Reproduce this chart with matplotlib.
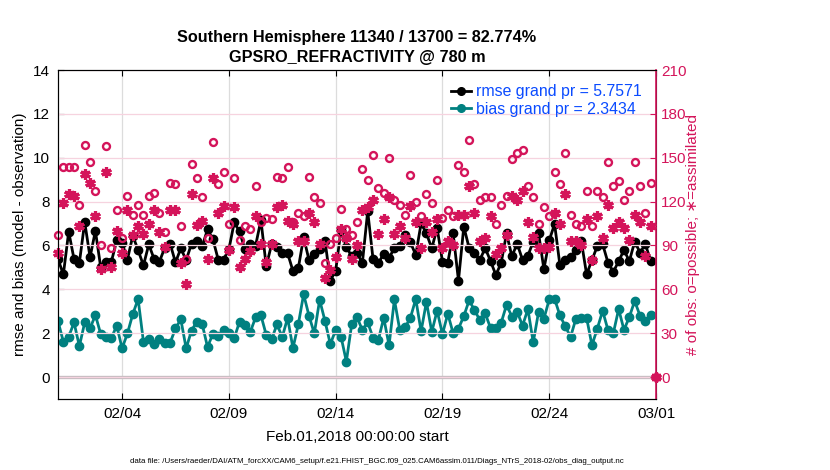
import numpy as np
import matplotlib
matplotlib.use("Agg")
import matplotlib.pyplot as plt
import matplotlib.dates as mdates
from matplotlib.lines import Line2D

plt.rcParams['font.family'] = ['Liberation Sans', 'DejaVu Sans']

# 6-hourly analysis times, Feb 01 00Z .. Mar 01 00Z
start = np.datetime64('2018-02-01T00:00')
times = start + np.arange(113) * np.timedelta64(6, 'h')

rmse = [5.38, 4.68, 6.63, 5.38, 5.21, 7.07, 5.46, 6.67, 5.0, 5.24,
        5.27, 6.23, 6.12, 5.36, 6.44, 5.79, 5.09, 6.05, 5.38, 5.27,
        5.9, 6.08, 5.23, 5.87, 5.33, 6.08, 6.2, 5.96, 6.73, 6.29,
        5.36, 5.36, 5.82, 7.05, 6.64, 5.82, 6.08, 5.99, 7.16, 5.05,
        6.06, 5.92, 5.67, 5.65, 4.84, 4.96, 6.38, 5.34, 5.63, 5.82,
        6.22, 4.4, 4.85, 6.71, 5.95, 5.5, 5.66, 5.2, 7.56, 5.38,
        5.19, 5.63, 5.44, 5.88, 5.97, 6.5, 6.14, 5.57, 7.01, 6.55,
        5.87, 6.8, 5.27, 5.22, 6.55, 4.4, 6.86, 5.88, 5.66, 5.34,
        5.88, 5.3, 4.65, 5.21, 6.55, 5.51, 6.08, 5.34, 5.53, 6.18,
        6.56, 4.92, 6.23, 6.98, 5.1, 5.34, 5.48, 5.8, 6.21, 4.68,
        5.34, 5.97, 6.06, 5.22, 4.8, 5.28, 5.8, 5.28, 6.18, 5.68,
        6.05, 5.3, np.nan]

bias = [2.55, 1.61, 1.84, 2.49, 1.41, 2.49, 2.22, 2.83, 1.96, 1.84,
        1.79, 2.34, 1.31, 1.99, 2.87, 3.56, 1.61, 1.72, 1.53, 1.72,
        1.56, 1.56, 2.22, 2.63, 1.31, 2.12, 2.53, 2.42, 1.37, 1.97,
        1.86, 2.16, 2.0, 1.77, 2.53, 2.36, 2.05, 2.72, 2.82, 1.92,
        1.72, 2.4, 1.83, 2.7, 1.32, 2.4, 3.78, 2.8, 1.99, 3.52,
        2.56, 1.5, 2.15, 1.85, 0.71, 2.4, 2.72, 2.15, 2.5, 1.79,
        1.7, 2.7, 1.45, 3.54, 2.15, 2.27, 2.7, 3.56, 2.09, 3.43,
        2.06, 3.03, 1.96, 2.89, 2.0, 2.21, 2.78, 3.5, 3.05, 2.6,
        2.91, 2.24, 2.24, 2.48, 3.29, 2.76, 2.98, 2.34, 3.1, 1.58,
        2.97, 2.66, 3.54, 3.57, 2.81, 2.32, 1.83, 2.67, 2.68, 2.7,
        1.45, 2.21, 3.02, 2.15, 2.0, 3.1, 2.15, 2.74, 3.47, 2.8,
        2.55, 2.84, np.nan]

n_possible = [97, 144, 144, 144, 118, 159, 147, 127, 90, 158,
              88, 114, 95, 124, 111, 118, 111, 124, 126, 112,
              99, 133, 132, 103, 81, 146, 136, 123, 95, 161,
              132, 140, 105, 136, 94, 103, 101, 131, 106, 109,
              108, 137, 136, 144, 106, 112, 110, 137, 123, 119,
              78, 91, 95, 115, 101, 97, 106, 142, 135, 152,
              129, 126, 150, 121, 118, 111, 138, 120, 110, 125,
              119, 135, 109, 114, 110, 145, 140, 162, 132, 121,
              123, 123, 105, 118, 124, 149, 153, 155, 131, 123,
              105, 116, 110, 140, 132, 153, 111, 105, 103, 127,
              103, 127, 123, 147, 131, 134, 121, 127, 147, 131,
              112, 133, 0]

n_assim = [85, 119, 125, 124, 103, 139, 133, 110, 74, 140,
           75, 100, 85, 114, 97, 103, 98, 105, 114, 99,
           89, 114, 114, 78, 64, 125, 104, 107, 81, 136,
           112, 117, 87, 116, 75, 81, 86, 110, 91, 79,
           91, 116, 118, 107, 105, 93, 93, 112, 106, 91,
           68, 73, 82, 101, 95, 81, 90, 114, 116, 121,
           98, 108, 123, 98, 103, 95, 117, 106, 88, 106,
           99, 108, 88, 93, 90, 111, 111, 131, 112, 93,
           95, 110, 84, 88, 97, 124, 121, 127, 106, 96,
           88, 88, 89, 112, 105, 125, 93, 93, 90, 108,
           80, 110, 95, 118, 102, 106, 102, 94, 111, 106,
           83, 103, 0]

pink = '#d4145a'
teal = '#008080'
blue = '#0a4bff'

fig = plt.figure(figsize=(8.3, 4.7), dpi=100)
ax = fig.add_axes([0.0699, 0.151, 0.7205, 0.700])
ax2 = ax.twinx()

# left axis: rmse and bias
ax.axhline(0, color='#c4bcc0', lw=2.4, zorder=1)
ax.plot(times, rmse, '-o', color='black', lw=2, ms=6, zorder=3)
ax.plot(times, bias, '-o', color=teal, lw=2, ms=6, zorder=3)
ax.set_ylim(-1, 14)
ax.set_yticks(range(0, 15, 2))
ax.set_xlim(np.datetime64('2018-02-01T00:00'), np.datetime64('2018-03-01T00:00'))
ax.set_xticks([np.datetime64('2018-02-%02d' % d) for d in (4, 9, 14, 19, 24)] + [np.datetime64('2018-03-01')])
ax.xaxis.set_major_formatter(mdates.DateFormatter('%m/%d'))
ax.grid(axis='x', color='#dcdcdc', lw=0.9)
ax.tick_params(direction='in', labelsize=11, top=True, length=4, pad=6)
ax.set_ylabel('rmse and bias (model - observation)', fontsize=11)
ax.set_xlabel('Feb.01,2018 00:00:00 start', fontsize=11, labelpad=6)

# right axis: observation counts
ax2.plot(times, n_possible, 'o', mfc='none', mec=pink, mew=1.7, ms=5, clip_on=False)
ax2.plot(times, n_assim, ls='none', marker=(6, 2, 0), color=pink, mec=pink, mew=2.3, ms=7.5, clip_on=False)
ax2.set_ylim(-15, 210)
ax2.set_yticks(range(0, 211, 30))
ax2.grid(axis='y', color='#f6d3df', lw=0.9)
ax2.tick_params(direction='in', labelsize=11, colors=pink, length=4)
ax2.spines['right'].set_color(pink)
ax2.spines['right'].set_linewidth(1.2)
ax2.set_ylabel('# of obs: o=possible; \u2217=assimilated', color=pink, fontsize=11, labelpad=0)
ax2.set_zorder(ax.get_zorder() + 1)
ax2.patch.set_visible(False)
ax.set_axisbelow(True)

handles = [Line2D([], [], color='black', lw=2, marker='o', ms=5.5),
           Line2D([], [], color=teal, lw=2, marker='o', ms=5.5)]
leg = ax2.legend(handles, ['rmse grand pr = 5.7571', 'bias grand pr = 2.3434'],
                 loc='upper right', frameon=False, fontsize=11.4, handlelength=1.3,
                 handletextpad=0.3, labelspacing=0.15, borderaxespad=0.7,
                 borderpad=0.2)
for t in leg.get_texts():
    t.set_color(blue)

ax.set_title('Southern Hemisphere 11340 / 13700 = 82.774%\nGPSRO_REFRACTIVITY @ 780 m',
             fontsize=11.7, fontweight='bold', pad=6, linespacing=1.4)

fig.text(0.454, 0.019,
         'data file: /Users/raeder/DAI/ATM_forcXX/CAM6_setup/f.e21.FHIST_BGC.f09_025.CAM6assim.011/Diags_NTrS_2018-02/obs_diag_output.nc',
         ha='center', va='center', fontsize=5.7)

fig.savefig('out.png', dpi=100)
